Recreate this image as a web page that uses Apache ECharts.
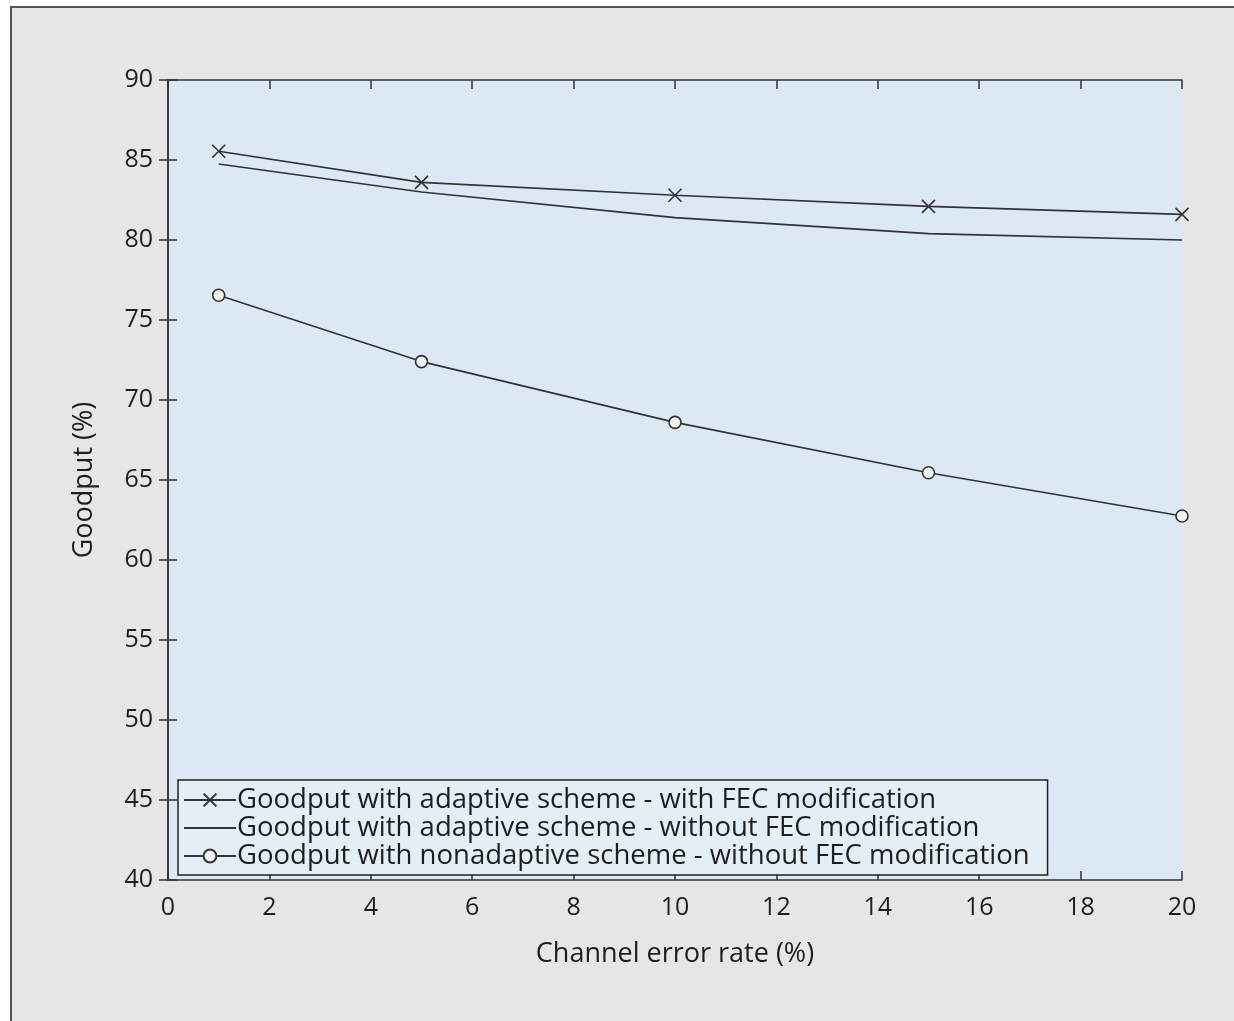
<!DOCTYPE html>
<html>
<head>
<meta charset="utf-8">
<script src="https://cdn.jsdelivr.net/npm/echarts@6/dist/echarts.min.js"></script>
<style>
  html, body { margin: 0; padding: 0; background: #fff; }
  #main { width: 1234px; height: 1021px; }
</style>
</head>
<body>
<div id="main"></div>
<script>
var errorRate = [1, 5, 10, 15, 20];
var adaptiveFec = [85.55, 83.6, 82.8, 82.1, 81.6];
var adaptiveNoFec = [84.75, 83.0, 81.4, 80.4, 80.0];
var nonAdaptive = [76.55, 72.4, 68.6, 65.45, 62.75];
var seriesNames = [
    'Goodput with adaptive scheme - with FEC modification',
    'Goodput with adaptive scheme - without FEC modification',
    'Goodput with nonadaptive scheme - without FEC modification'
];

var textColor = '#1e1e1e';
var lineColor = '#333';
var fontName = 'Open Sans';

function pairs(ys) {
    var out = [];
    for (var i = 0; i < errorRate.length; i++) {
        out.push([errorRate[i], ys[i]]);
    }
    return out;
}

var myChart = echarts.init(document.getElementById('main'));

var boxAxis = {
    axisLine: { show: true, lineStyle: { color: lineColor, width: 1.5 } },
    axisTick: { show: true, inside: true, length: 9, lineStyle: { color: lineColor, width: 1.5 } },
    splitLine: { show: false }
};

var option = {
    backgroundColor: '#fff',
    animation: false,
    textStyle: { fontFamily: fontName },
    graphic: [{
        type: 'rect',
        z: -100,
        shape: { x: 11, y: 7, width: 1240, height: 1040 },
        style: { fill: '#e6e6e6', stroke: '#555', lineWidth: 2 }
    }],
    grid: {
        left: 168, top: 80, right: 52, bottom: 141,
        show: true,
        backgroundColor: '#dce9f4',
        borderWidth: 0
    },
    legend: {
        left: 178,
        top: 780,
        orient: 'vertical',
        data: [
            { name: seriesNames[0] },
            { name: seriesNames[1], itemStyle: { opacity: 0 } },
            { name: seriesNames[2] }
        ],
        backgroundColor: '#e4eef7',
        borderColor: '#222',
        borderWidth: 1.5,
        borderRadius: 0,
        padding: [6, 18, 5, 5],
        itemGap: 0,
        itemWidth: 52,
        itemHeight: 16,
        textStyle: { color: textColor, fontSize: 27.5, fontFamily: fontName, padding: [0, 0, 0, -4] }
    },
    xAxis: [Object.assign({
        type: 'value',
        min: 0, max: 20, interval: 2,
        name: 'Channel error rate (%)',
        nameLocation: 'middle',
        nameGap: 61,
        nameTextStyle: { color: textColor, fontSize: 27 },
        axisLabel: { color: textColor, fontSize: 25, margin: 15 }
    }, boxAxis), Object.assign({
        type: 'value',
        position: 'top',
        min: 0, max: 20, interval: 2,
        axisLabel: { show: false }
    }, boxAxis)],
    yAxis: [Object.assign({
        type: 'value',
        min: 40, max: 90, interval: 5,
        name: 'Goodput (%)',
        nameLocation: 'middle',
        nameGap: 70,
        nameTextStyle: { color: textColor, fontSize: 27 },
        axisLabel: { color: textColor, fontSize: 25, margin: 15 }
    }, boxAxis), Object.assign({
        type: 'value',
        position: 'right',
        min: 40, max: 90, interval: 5,
        axisLabel: { show: false }
    }, boxAxis)],
    series: [{
        name: seriesNames[0],
        type: 'line',
        data: pairs(adaptiveFec),
        symbol: 'path://M0,0L10,10M10,0L0,10',
        symbolSize: 13,
        itemStyle: { color: lineColor, borderColor: lineColor, borderWidth: 1.6 },
        lineStyle: { color: lineColor, width: 1.6 }
    }, {
        name: seriesNames[1],
        type: 'line',
        data: pairs(adaptiveNoFec),
        symbol: 'none',
        itemStyle: { color: lineColor },
        lineStyle: { color: lineColor, width: 1.6 }
    }, {
        name: seriesNames[2],
        type: 'line',
        data: pairs(nonAdaptive),
        symbol: 'circle',
        symbolSize: 12,
        itemStyle: { color: '#f2f2f2', borderColor: lineColor, borderWidth: 1.6 },
        lineStyle: { color: lineColor, width: 1.6 }
    }]
};

myChart.setOption(option);
</script>
</body>
</html>
